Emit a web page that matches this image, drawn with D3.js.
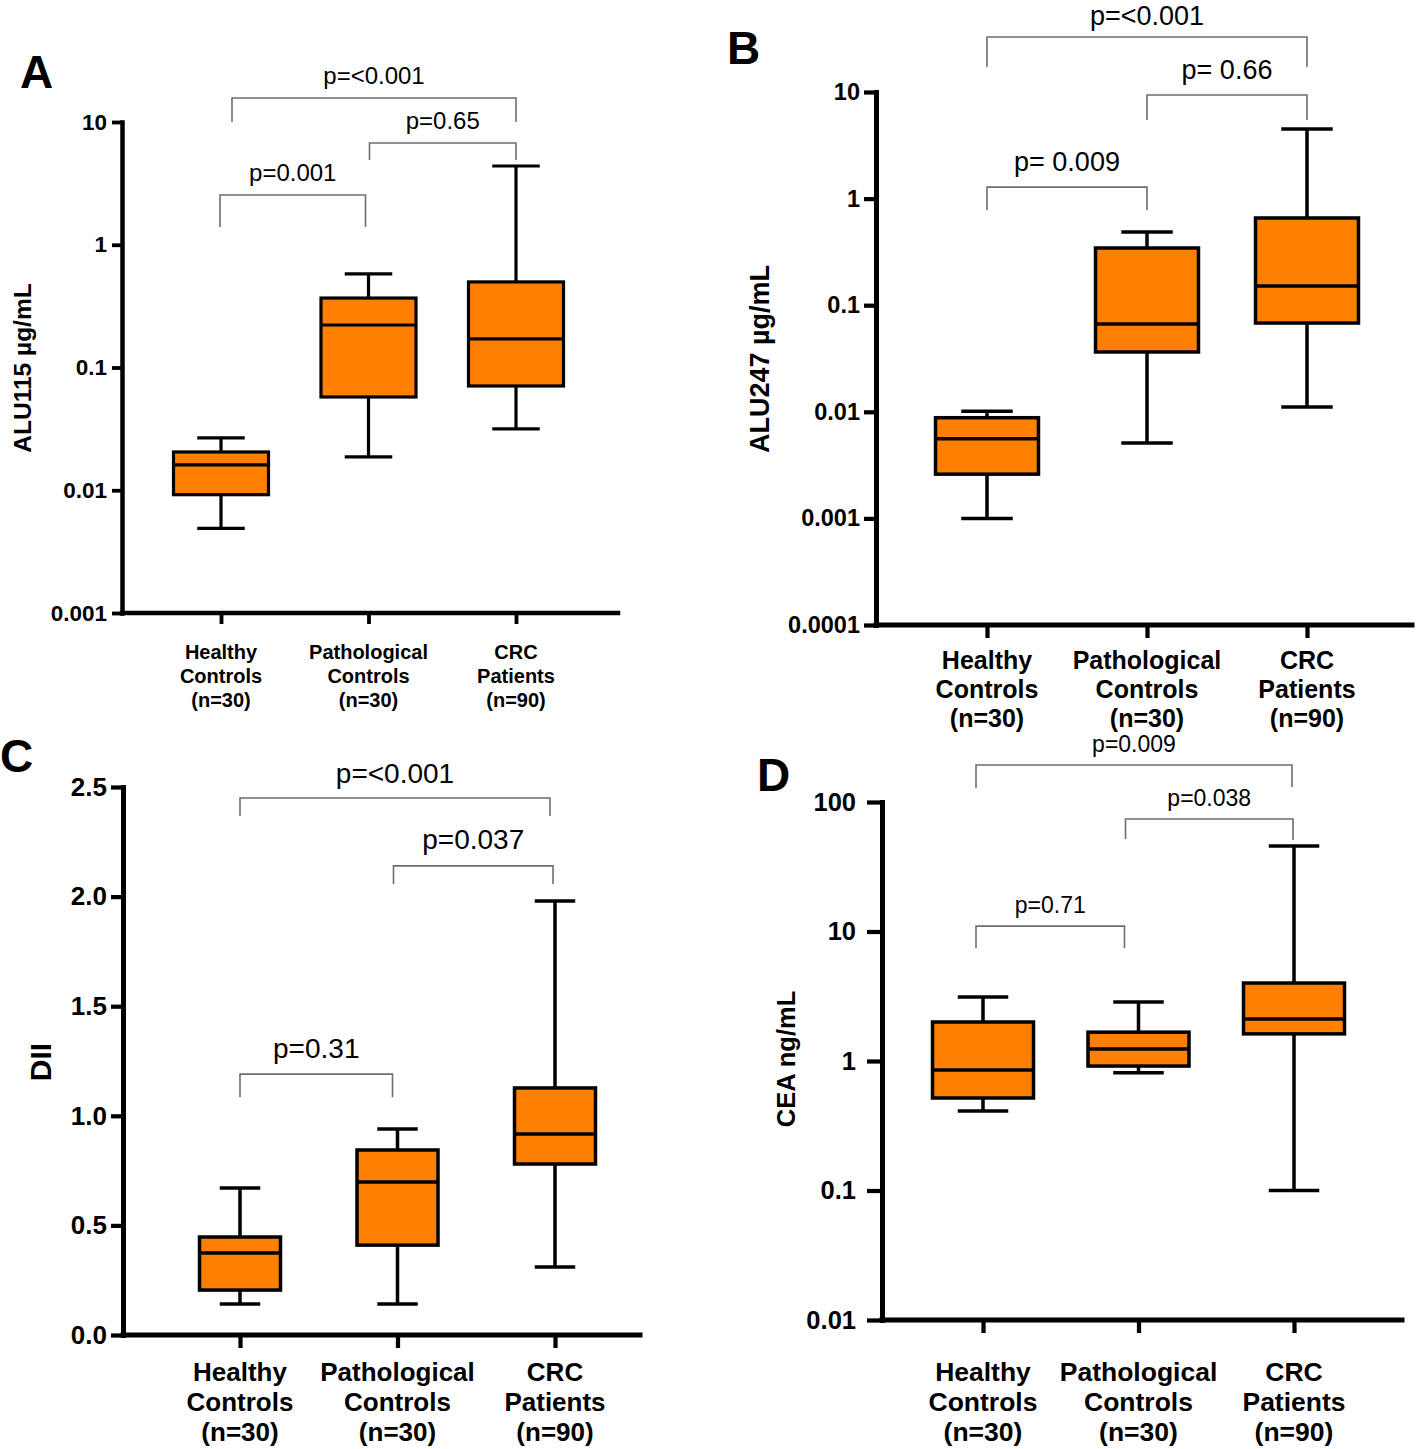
<!DOCTYPE html>
<html><head><meta charset="utf-8">
<script src="https://cdn.jsdelivr.net/npm/d3@7"></script>
<style>
body{margin:0;background:#fff}
svg{display:block}
text{font-family:"Liberation Sans",Arial,Helvetica,sans-serif;fill:#000}
</style>
</head><body>
<svg id="chart" width="1418" height="1449"></svg>
<script>
// ---------------- DATA ----------------
const groups = ["Healthy Controls (n=30)", "Pathological Controls (n=30)", "CRC Patients (n=90)"];
const groupLines = [["Healthy","Controls","(n=30)"],["Pathological","Controls","(n=30)"],["CRC","Patients","(n=90)"]];

// box statistics per group: [min, Q1, median, Q3, max]
const alu115Box = [[0.0049,0.0092,0.0161,0.0205,0.0267],[0.0187,0.0575,0.222,0.368,0.578],[0.0316,0.0707,0.171,0.498,4.38]];
const alu247Box = [[0.0010,0.0026,0.0056,0.0088,0.0101],[0.0051,0.0364,0.0667,0.344,0.486],[0.0111,0.068,0.151,0.658,4.5]];
const diiBox    = [[0.141,0.205,0.374,0.447,0.671],[0.141,0.41,0.698,0.844,0.94],[0.31,0.78,0.917,1.127,1.98]];
const ceaBox    = [[0.411,0.518,0.853,2.0,3.12],[0.81,0.914,1.24,1.67,2.86],[0.1,1.62,2.11,4.0,45.8]];

// y tick values
const alu115Ticks = [0.001,0.01,0.1,1,10];
const alu247Ticks = [0.0001,0.001,0.01,0.1,1,10];
const diiTicks    = [0,0.5,1,1.5,2,2.5];
const ceaTicks    = [0.01,0.1,1,10,100];

// comparisons: [group a, group b, bracket level (data units), label]
const alu115P = [[0,1,2.54,"p=0.001"],[1,2,6.74,"p=0.65"],[0,2,15.7,"p=<0.001"]];
const alu247P = [[0,1,1.28,"p= 0.009"],[1,2,9.37,"p= 0.66"],[0,2,32.8,"p=<0.001"]];
const diiP    = [[0,1,1.19,"p=0.31"],[1,2,2.14,"p=0.037"],[0,2,2.45,"p=<0.001"]];
const ceaP    = [[0,1,11.0,"p=0.71"],[1,2,74,"p=0.038"],[0,2,193,"p=0.009"]];

// ---------------- LAYOUT ----------------
const logFmt = d3.format("~g");
const linFmt = d3.format(".1f");
const ORANGE = "#FF8000";

const panels = [
 {letter:"A", box:alu115Box, ticks:alu115Ticks, log:true, domain:[0.001,10], fmt:logFmt, title:"ALU115 µg/mL", comps:alu115P,
  L:{axisX:122,yTop:122,yBot:613,xEnd:618,cats:[221,516],boxW:95,boxSW:3.2,axisSW:4.5,tickLen:10,xTickLen:11,tickFs:22.5,tickPad:5,
     catFs:20,catY0:659,catDy:24,titleFs:24.5,titleX:22,titleY:368,pFs:24,pGaps:[14,14,14],lx:20,ly:88,lfs:46,
     legs:[[32,32],[17,17],[24,24]],dx:[[-1,-3],[1,0],[11,0]]}},
 {letter:"B", box:alu247Box, ticks:alu247Ticks, log:true, domain:[0.0001,10], fmt:logFmt, title:"ALU247 µg/mL", comps:alu247P,
  L:{axisX:876,yTop:92,yBot:625,xEnd:1412,cats:[987,1307],boxW:103,boxSW:3.5,axisSW:5,tickLen:12,xTickLen:13,tickFs:23.5,tickPad:4,
     catFs:25,catY0:669,catDy:29,titleFs:27,titleX:760,titleY:359,pFs:27,pGaps:[16,16,12],lx:727,ly:64,lfs:46,
     legs:[[23,23],[25,25],[30,30]],dx:[[0,0],[0,0],[0,0]]}},
 {letter:"C", box:diiBox, ticks:diiTicks, log:false, domain:[0,2.5], fmt:linFmt, title:"DII", comps:diiP,
  L:{axisX:123,yTop:787,yBot:1335,xEnd:640,cats:[240,555],boxW:81,boxSW:3.5,axisSW:5,tickLen:12,xTickLen:13,tickFs:26,tickPad:4,
     catFs:26,catY0:1381,catDy:30,titleFs:30,titleX:40,titleY:1062,pFs:28,pGaps:[16,17,15],lx:0,ly:772,lfs:46,
     legs:[[23,23],[18,18],[18,18]],dx:[[0,-5],[-4,-2],[0,-5]]}},
 {letter:"D", box:ceaBox, ticks:ceaTicks, log:true, domain:[0.01,100], fmt:logFmt, title:"CEA ng/mL", comps:ceaP,
  L:{axisX:882,yTop:802,yBot:1320,xEnd:1402,cats:[983,1294],boxW:101,boxSW:3.5,axisSW:5,tickLen:15,xTickLen:13,tickFs:25.5,tickPad:11,
     catFs:26.5,catY0:1381,catDy:30,titleFs:25.5,titleX:786,titleY:1059,pFs:23,pGaps:[13,13,13],lx:757,ly:791,lfs:46,
     legs:[[22,22],[20,21],[23,22]],dx:[[-7,-14],[-13,-1],[-7,-2]]}}
];

const svg = d3.select("#chart");

function drawPanel(p){
  const L = p.L;
  const g = svg.append("g").attr("class","panel-"+p.letter);
  const y = (p.log ? d3.scaleLog() : d3.scaleLinear()).domain(p.domain).range([L.yBot, L.yTop]);
  const x = d3.scalePoint().domain(groups).range(L.cats);

  // panel letter
  g.append("text").attr("x",L.lx).attr("y",L.ly).attr("font-size",L.lfs).attr("font-weight","bold").text(p.letter);

  // y axis
  const ya = d3.axisLeft(y).tickValues(p.ticks).tickFormat(p.fmt)
      .tickSizeInner(L.tickLen).tickSizeOuter(0).tickPadding(L.tickPad);
  const yg = g.append("g").attr("transform",`translate(${L.axisX},0)`).call(ya);
  yg.select(".domain").attr("stroke","#000").attr("stroke-width",L.axisSW).attr("stroke-linecap","square");
  yg.selectAll(".tick line").attr("stroke","#000").attr("stroke-width",L.axisSW*0.85);
  yg.selectAll(".tick text").attr("font-size",L.tickFs).attr("font-weight","bold").attr("fill","#000")
     .attr("font-family",'"Liberation Sans",Arial,sans-serif');

  // x axis line
  g.append("line").attr("x1",L.axisX).attr("x2",L.xEnd).attr("y1",L.yBot).attr("y2",L.yBot)
     .attr("stroke","#000").attr("stroke-width",L.axisSW).attr("stroke-linecap","square");
  const xa = d3.axisBottom(x).tickSize(L.xTickLen).tickFormat("");
  const xg = g.append("g").attr("transform",`translate(0,${L.yBot})`).call(xa);
  xg.select(".domain").remove();
  xg.selectAll(".tick line").attr("stroke","#000").attr("stroke-width",L.axisSW*0.85);

  // category labels
  groups.forEach((gr,i)=>{
    const t = g.append("text").attr("text-anchor","middle").attr("font-size",L.catFs).attr("font-weight","bold");
    groupLines[i].forEach((ln,j)=>{
      t.append("tspan").attr("x",x(gr)).attr("y",L.catY0 + j*L.catDy).text(ln);
    });
  });

  // y title
  g.append("text").attr("transform",`translate(${L.titleX},${L.titleY}) rotate(-90)`)
     .attr("text-anchor","middle").attr("dy","0.35em").attr("font-size",L.titleFs).attr("font-weight","bold").text(p.title);

  // boxes
  const bg = g.append("g");
  p.box.forEach((s,i)=>{
    const cx = x(groups[i]);
    const [mn,q1,md,q3,mx] = s;
    const sw = L.boxSW;
    bg.append("line").attr("x1",cx).attr("x2",cx).attr("y1",y(mn)).attr("y2",y(mx)).attr("stroke","#000").attr("stroke-width",sw);
    [mn,mx].forEach(v=>{
      bg.append("line").attr("x1",cx-L.boxW/4).attr("x2",cx+L.boxW/4).attr("y1",y(v)).attr("y2",y(v))
        .attr("stroke","#000").attr("stroke-width",sw);
    });
    bg.append("rect").attr("x",cx-L.boxW/2).attr("width",L.boxW).attr("y",y(q3)).attr("height",y(q1)-y(q3))
      .attr("fill",ORANGE).attr("stroke","#000").attr("stroke-width",sw);
    bg.append("line").attr("x1",cx-L.boxW/2).attr("x2",cx+L.boxW/2).attr("y1",y(md)).attr("y2",y(md))
      .attr("stroke","#000").attr("stroke-width",sw);
  });

  // comparison brackets
  p.comps.forEach((c,k)=>{
    const [a,b,lev,lab] = c;
    const x1 = x(groups[a]) + L.dx[k][0], x2 = x(groups[b]) + L.dx[k][1];
    const yy = y(lev);
    g.append("path").attr("d",`M${x1},${yy+L.legs[k][0]}V${yy}H${x2}V${yy+L.legs[k][1]}`)
      .attr("fill","none").attr("stroke","#6e6e6e").attr("stroke-width",1.6);
    g.append("text").attr("x",(x1+x2)/2).attr("y",yy-L.pGaps[k]).attr("text-anchor","middle")
      .attr("font-size",L.pFs).text(lab);
  });
}

panels.forEach(drawPanel);
</script>
</body></html>
